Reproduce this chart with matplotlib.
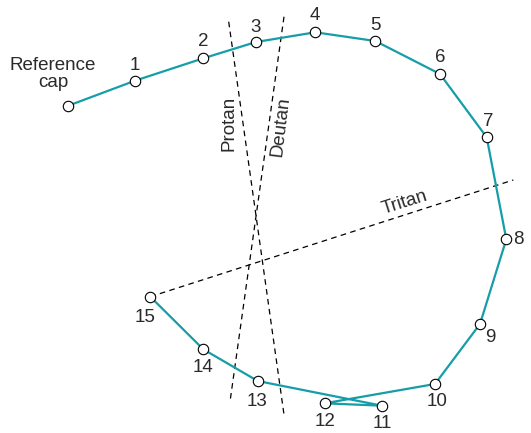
import matplotlib
matplotlib.use('Agg')
import matplotlib.pyplot as plt

plt.rcParams['font.family'] = ['Liberation Sans', 'DejaVu Sans']

# cap positions (diagram units, y down)
cap_x = [68.3, 135.0, 203.3, 256.0, 315.3, 375.3, 440.0, 486.7, 506.3, 480.0, 435.0, 382.0, 324.7, 257.7, 203.3, 150.3]
cap_y = [105.7, 80.7, 58.3, 42.0, 32.3, 41.0, 74.0, 137.3, 239.3, 324.0, 384.0, 405.7, 403.3, 381.0, 349.3, 296.7]
# order in which the caps were arranged
order = [0, 1, 2, 3, 4, 5, 6, 7, 8, 9, 10, 12, 11, 13, 14, 15]

cap_labels = ['', '1', '2', '3', '4', '5', '6', '7', '8', '9', '10', '11', '12', '13', '14', '15']
label_x = [53, 135, 203, 256, 315, 375, 440, 488, 513, 490, 437, 382, 325, 257, 203, 145]
label_y = [74, 65, 42, 27, 15, 25, 58, 122, 240, 337, 402, 424, 422, 401, 367, 317]

# confusion axes: (x0, y0, x1, y1)
axes_lines = {
    'Protan': (228.7, 21.7, 284.3, 416.7),
    'Deutan': (284.0, 16.7, 230.0, 401.7),
    'Tritan': (150.3, 296.7, 513.3, 180.0),
}
axes_text = {
    'Protan': (229.3, 123.3, 90),
    'Deutan': (281.0, 126.7, 83),
    'Tritan': (405.0, 202.5, 17.5),
}

fig = plt.figure(figsize=(5.31, 4.33), dpi=100)
ax = fig.add_axes((0, 0, 1, 1))
ax.set_xlim(0, 531)
ax.set_ylim(433, 0)
ax.axis('off')

for name, (x0, y0, x1, y1) in axes_lines.items():
    ax.plot([x0, x1], [y0, y1], color='black', lw=0.9, dashes=(4.5, 3.5), zorder=1)
    tx, ty, rot = axes_text[name]
    ax.text(tx, ty, name, rotation=rot, ha='center', va='center',
            fontsize=13.5, color='#2a2a2a', rotation_mode='anchor')

ax.plot([cap_x[i] for i in order], [cap_y[i] for i in order],
        color='#169ea8', lw=1.6, zorder=2)
ax.plot(cap_x, cap_y, 'o', ls='none', ms=7.5, mfc='white', mec='black',
        mew=0.8, zorder=3)

ax.text(label_x[0], label_y[0], 'Reference\ncap', ha='center', va='center',
        fontsize=13.5, color='#2a2a2a', linespacing=1.0)
for i in range(1, len(cap_labels)):
    ha = 'left' if i == 8 else 'center'
    ax.text(label_x[i], label_y[i], cap_labels[i], ha=ha, va='center',
            fontsize=13.5, color='#2a2a2a')

plt.savefig('out.png', dpi=100)
